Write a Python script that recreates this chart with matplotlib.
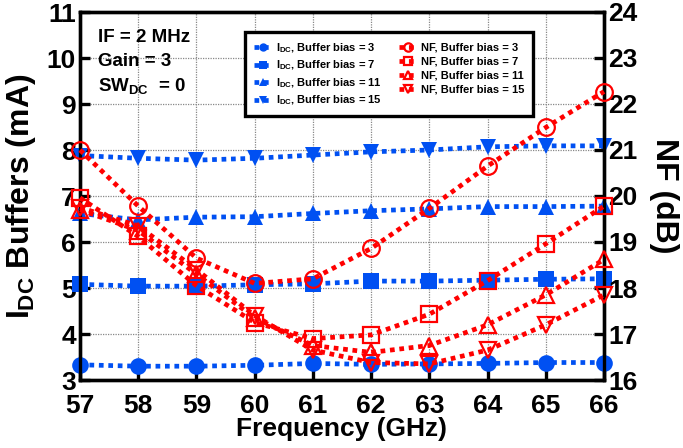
import matplotlib
matplotlib.use("Agg")
import matplotlib.pyplot as plt

plt.rcParams['font.family'] = ['Liberation Sans', 'DejaVu Sans']
plt.rcParams['font.weight'] = 'bold'
plt.rcParams['mathtext.fontset'] = 'custom'
plt.rcParams['mathtext.rm'] = 'Liberation Sans:bold'
plt.rcParams['mathtext.it'] = 'Liberation Sans:bold'
plt.rcParams['mathtext.bf'] = 'Liberation Sans:bold'

freq = [57, 58, 59, 60, 61, 62, 63, 64, 65, 66]

# DC current of the buffers (mA)
idc_bias3 = [3.33, 3.30, 3.30, 3.32, 3.36, 3.34, 3.35, 3.36, 3.38, 3.38]
idc_bias7 = [5.08, 5.04, 5.04, 5.07, 5.09, 5.15, 5.15, 5.17, 5.19, 5.20]
idc_bias11 = [6.62, 6.48, 6.54, 6.55, 6.62, 6.68, 6.72, 6.77, 6.77, 6.78]
idc_bias15 = [7.88, 7.82, 7.78, 7.82, 7.89, 7.96, 8.00, 8.07, 8.09, 8.09]

# Noise figure (dB)
nf_bias3 = [21.00, 19.78, 18.65, 18.10, 18.20, 18.86, 19.73, 20.65, 21.49, 22.27]
nf_bias7 = [19.96, 19.12, 18.05, 17.25, 16.90, 16.98, 17.43, 18.16, 18.96, 19.78]
nf_bias11 = [19.70, 19.25, 18.30, 17.35, 16.75, 16.60, 16.75, 17.20, 17.85, 18.62]
nf_bias15 = [19.75, 19.35, 18.40, 17.40, 16.65, 16.38, 16.35, 16.65, 17.20, 17.85]

idc_ticks = [3, 4, 5, 6, 7, 8, 9, 10, 11]
nf_ticks = [16, 17, 18, 19, 20, 21, 22, 23, 24]

blue = '#0050F2'
red = '#FF0000'

fig = plt.figure(figsize=(6.83, 4.48), dpi=100)
ax = fig.add_axes([80 / 683, 1 - 380 / 448, 524 / 683, 368 / 448])
ax2 = ax.twinx()

line_kw = dict(linestyle=(0, (1, 1)), linewidth=3.4, dash_capstyle='butt', clip_on=False)

handles_idc = []
for vals, mk, lab in [(idc_bias3, 'o', '3'), (idc_bias7, 's', '7'),
                      (idc_bias11, '^', '11'), (idc_bias15, 'v', '15')]:
    h, = ax.plot(freq, vals, color=blue, marker=mk, markersize=12,
                 markeredgewidth=0, label=r'$I_{DC}$, Buffer bias = ' + lab,
                 zorder=3, **line_kw)
    handles_idc.append(h)

handles_nf = []
for vals, mk, lab in [(nf_bias3, 'o', '3'), (nf_bias7, 's', '7'),
                      (nf_bias11, '^', '11'), (nf_bias15, 'v', '15')]:
    h, = ax2.plot(freq, vals, color=red, marker=mk, markersize=12,
                  markerfacecolor='none', markeredgewidth=1.6,
                  label='NF, Buffer bias = ' + lab, zorder=3, **line_kw)
    handles_nf.append(h)

ax.set_xlim(57, 66)
ax.set_ylim(3, 11)
ax2.set_ylim(16, 24)
ax.set_xticks(freq)
ax.set_yticks(idc_ticks)
ax2.set_yticks(nf_ticks)

ax.grid(True, color='#888888', linestyle=(0, (1, 1)), linewidth=0.9)
ax.set_axisbelow(True)

for a in (ax, ax2):
    for s in a.spines.values():
        s.set_linewidth(2.4)
    a.tick_params(direction='in', length=7, width=2.4, labelsize=19)
ax.tick_params(axis='x', pad=10)
ax.tick_params(axis='y', pad=3)
ax2.tick_params(axis='y', pad=3)

ax.set_xlabel('Frequency (GHz)', fontsize=19, fontweight='bold', labelpad=-1)
ax.set_ylabel(r'$I_{DC}$ Buffers (mA)', fontsize=23, fontweight='bold', labelpad=6)
ax2.set_ylabel('NF (dB)', fontsize=23, fontweight='bold', labelpad=8,
               rotation=270, va='bottom')

ax.text(0.035, 0.93, 'IF = 2 MHz', transform=ax.transAxes, fontsize=13.5,
        fontweight='bold', va='center')
ax.text(0.035, 0.865, 'Gain = 3', transform=ax.transAxes, fontsize=13.5,
        fontweight='bold', va='center')
ax.text(0.035, 0.80, r'SW$_{DC}$  = 0', transform=ax.transAxes, fontsize=13.5,
        fontweight='bold', va='center')

leg = ax2.legend(handles_idc + handles_nf,
                 [h.get_label() for h in handles_idc + handles_nf],
                 ncol=2, loc='upper left', bbox_to_anchor=(0.305, 0.96),
                 fontsize=8, markerscale=0.5, handlelength=1.6,
                 handletextpad=0.4, columnspacing=1.5, labelspacing=0.35,
                 borderpad=0.8, fancybox=False, framealpha=1,
                 edgecolor='black')
leg.get_frame().set_linewidth(2.4)
for t in leg.get_texts():
    t.set_fontweight('bold')
leg.set_zorder(10)

fig.savefig('out.png', dpi=100)
